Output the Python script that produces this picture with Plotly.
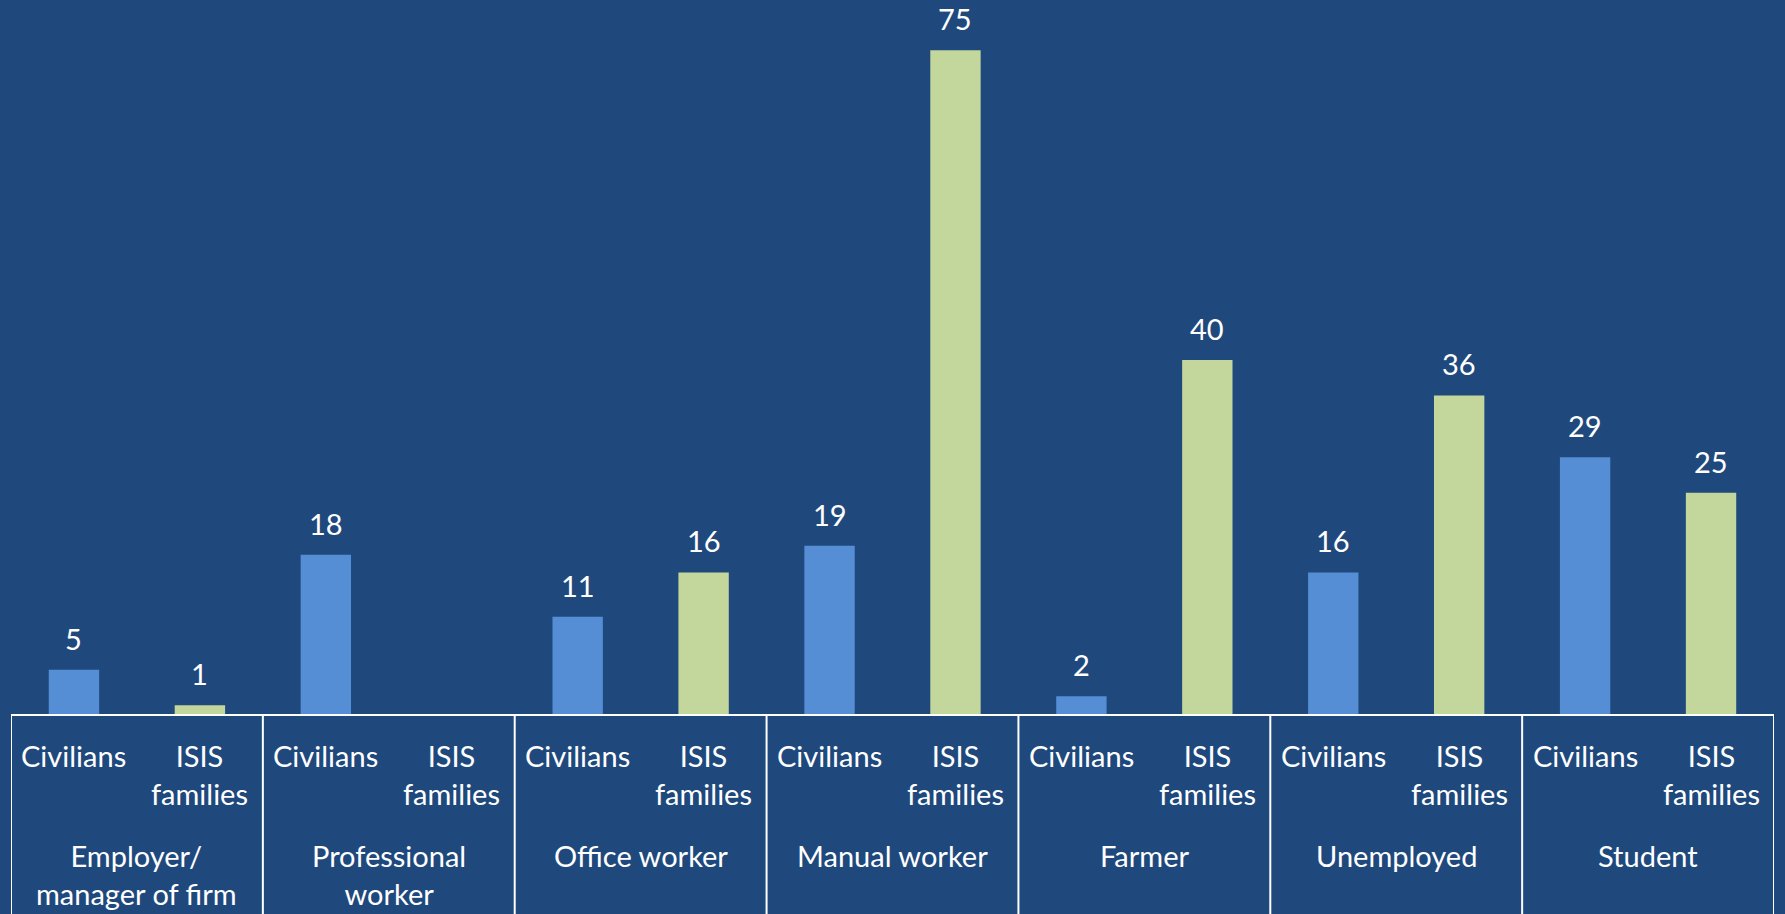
import plotly.graph_objects as go

# categories
groups = ["Employer/<br>manager of firm", "Professional<br>worker", "Office worker",
          "Manual worker", "Farmer", "Unemployed", "Student"]
series_names = ["Civilians", "ISIS<br>families"]

# values (percent)
civilians = [5, 18, 11, 19, 2, 16, 29]
isis_families = [1, None, 16, 75, 40, 36, 25]

bg = "#1F497D"
font_main = "Lato, 'Open Sans', sans-serif"
fs = 29

# each group holds two slots: civilians then ISIS families
x_civ = [2 * i for i in range(len(groups))]
x_isis = [2 * i + 1 for i in range(len(groups))]

fig = go.Figure()
fig.add_trace(go.Bar(x=x_civ, y=civilians, name="Civilians", width=0.4,
                     marker=dict(color="#558ED5", line=dict(width=0))))
fig.add_trace(go.Bar(x=x_isis, y=isis_families, name="ISIS families", width=0.4,
                     marker=dict(color="#C3D69B", line=dict(width=0))))

annots = []
# value labels above bars
for xs, vals in [(x_civ, civilians), (x_isis, isis_families)]:
    for x, v in zip(xs, vals):
        if v is None:
            continue
        annots.append(dict(x=x, y=v, xref="x", yref="y", text=str(v), showarrow=False,
                           yanchor="bottom", yshift=12, font=dict(size=fs, color="white")))
# sub-category labels
for xs, name in [(x_civ, series_names[0]), (x_isis, series_names[1])]:
    for x in xs:
        annots.append(dict(x=x, y=0, xref="x", yref="paper", text=name, showarrow=False,
                           yanchor="top", yshift=-22, font=dict(size=fs, color="white")))
# group labels
for i, g in enumerate(groups):
    annots.append(dict(x=2 * i + 0.5, y=0, xref="x", yref="paper", text=g, showarrow=False,
                       yanchor="top", yshift=-122, font=dict(size=fs, color="white")))

# group dividers (box lines under the axis)
shapes = []
for i in range(len(groups) + 1):
    shapes.append(dict(type="line", xref="x", yref="paper", x0=2 * i - 0.5, x1=2 * i - 0.5,
                       y0=0, y1=-0.3, line=dict(color="white", width=2)))

fig.update_layout(
    width=1785, height=914,
    paper_bgcolor=bg, plot_bgcolor=bg,
    barmode="overlay", showlegend=False,
    margin=dict(l=11, r=11, t=6, b=200),
    font=dict(family=font_main, color="white", size=fs),
    annotations=annots, shapes=shapes,
)
fig.update_xaxes(range=[-0.5, 2 * len(groups) - 0.5], showline=True, linecolor="white",
                 linewidth=2, showticklabels=False, ticks="", showgrid=False, zeroline=False)
fig.update_yaxes(range=[0, 80], visible=False, showgrid=False)

fig.write_html("out.html", config={"displayModeBar": False},
               post_script="document.body.style.margin='0';")
